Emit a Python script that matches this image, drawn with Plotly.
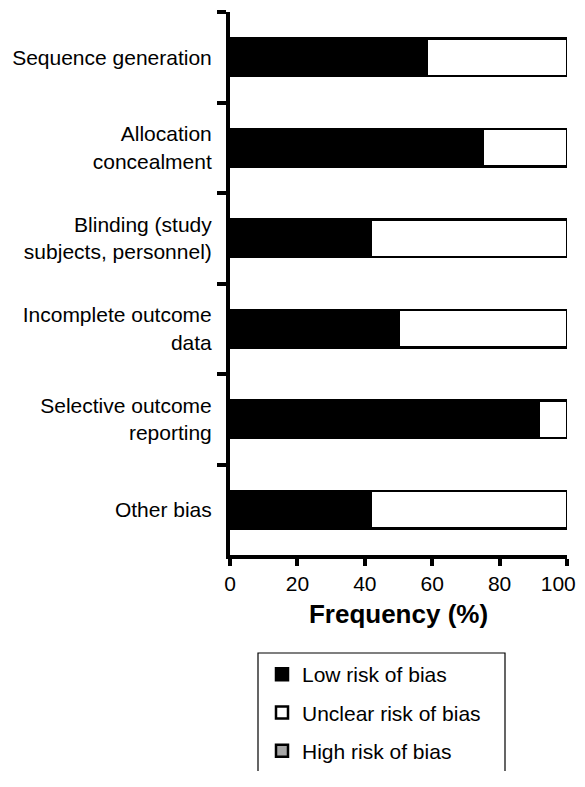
import plotly.graph_objects as go

categories = [
    "Sequence generation",
    "Allocation<br>concealment",
    "Blinding (study<br>subjects, personnel)",
    "Incomplete outcome<br>data",
    "Selective outcome<br>reporting",
    "Other bias",
]
low_risk = [58.3, 75.0, 41.7, 50.0, 91.7, 41.7]
unclear_risk = [41.7, 25.0, 58.3, 50.0, 8.3, 58.3]
high_risk = [0, 0, 0, 0, 0, 0]
series_names = ["Low risk of bias", "Unclear risk of bias", "High risk of bias"]
x_tick_values = [0, 20, 40, 60, 80, 100]
x_tick_labels = ["0", "20", "40", "60", "80", "100"]

FONT = "Arial, Liberation Sans, sans-serif"
# page body has an 8px margin, so the figure is sized/positioned to compensate
OFF = 8
W, H = 585 - OFF, 787 - 2 * OFF - 8
L, R, T = 230 - OFF, 18, 12 - OFF
B = H - (555 - OFF)

fig = go.Figure()
colors = ["#000000", "#ffffff", "#a6a6a6"]
for i, (name, vals, col) in enumerate(zip(series_names, [low_risk, unclear_risk, high_risk], colors)):
    fig.add_trace(go.Bar(
        y=categories, x=vals, orientation="h", name=name,
        marker=dict(color=col, line=dict(color="#000000", width=2.5)),
        legendgroup=f"g{i}",
    ))

plot_h = H - T - B
plot_w = W - L - R
def px_to_paper_y(py):
    py -= OFF
    return (H - B - py) / plot_h
def px_to_paper_x(px):
    px -= OFF
    return (px - L) / plot_w

# keep the last tick label inside the visible page edge
shown_tick_labels = x_tick_labels[:-1] + [x_tick_labels[-1] + "\u00a0\u00a0\u00a0"]

fig.update_layout(
    width=W, height=H,
    margin=dict(l=L, r=R, t=T, b=B, autoexpand=False),
    barmode="stack",
    bargap=0.59,
    plot_bgcolor="white", paper_bgcolor="white",
    font=dict(family=FONT, size=21, color="#000000"),
    legend=dict(
        x=px_to_paper_x(262), y=px_to_paper_y(654),
        xanchor="left", yanchor="top",
        font=dict(size=21, family=FONT),
        tracegroupgap=8,
        bgcolor="rgba(0,0,0,0)",
        borderwidth=0,
    ),
    shapes=[dict(
        type="rect", xref="paper", yref="paper",
        x0=px_to_paper_x(258), x1=px_to_paper_x(505),
        y0=px_to_paper_y(800), y1=px_to_paper_y(653),
        line=dict(color="#000000", width=1.2), fillcolor="rgba(0,0,0,0)",
    )],
    xaxis=dict(
        range=[0, 100], tickvals=x_tick_values, ticktext=shown_tick_labels,
        showgrid=False, zeroline=False, automargin=False,
        showline=True, linecolor="#000000", linewidth=4,
        ticks="outside", ticklen=7, tickwidth=3.5, tickcolor="#000000",
        tickfont=dict(size=21), ticklabeloverflow="allow",
        title=dict(text="<b>Frequency (%)</b>", font=dict(size=26), standoff=12),
    ),
    yaxis=dict(
        autorange="reversed", type="category",
        showgrid=False, zeroline=False, automargin=False,
        showline=True, linecolor="#000000", linewidth=4,
        ticks="outside", tickson="boundaries", ticklen=9, tickwidth=3.5, tickcolor="#000000",
        tickfont=dict(size=21), ticklabelstandoff=10,
    ),
)

fig.write_html("out.html")
